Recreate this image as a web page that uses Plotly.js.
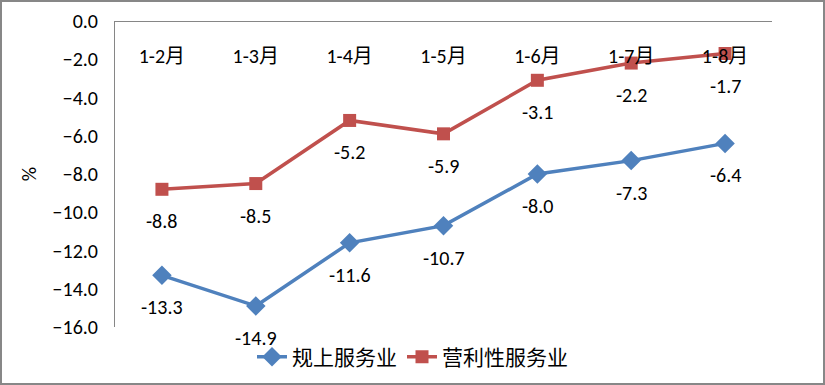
<!DOCTYPE html>
<html><head><meta charset="utf-8">
<script src="https://cdn.plot.ly/plotly-3.0.1.min.js"></script>
<style>
html,body{margin:0;padding:0;background:#fff;}
#chart{position:absolute;left:0;top:0;width:821px;height:381px;border:2px solid #878787;}
</style></head>
<body><div id="chart"></div>
<script>
const categories = ['1-2月','1-3月','1-4月','1-5月','1-6月','1-7月','1-8月'];
const seriesNames = ['规上服务业','营利性服务业'];
const scaleServices = [-13.3,-14.9,-11.6,-10.7,-8.0,-7.3,-6.4];
const profitServices = [-8.8,-8.5,-5.2,-5.9,-3.1,-2.2,-1.7];
const yTicks = [0,-2,-4,-6,-8,-10,-12,-14,-16];

const FONT = 'Carlito, Calibri, "Liberation Sans", "Noto Sans CJK SC", sans-serif';
const blue = '#4F81BD', red = '#C0504D';

const traces = [
  {x: categories, y: scaleServices, name: seriesNames[0], type:'scatter', mode:'lines+markers',
   line:{color:blue,width:3.5}, marker:{symbol:'diamond',size:15,color:blue}},
  {x: categories, y: profitServices, name: seriesNames[1], type:'scatter', mode:'lines+markers',
   line:{color:red,width:3.5}, marker:{symbol:'square',size:13,color:red}}
];

const annotations = [];
[scaleServices, profitServices].forEach(arr => {
  arr.forEach((v,i) => annotations.push({
    x: categories[i], y: v, xref:'x', yref:'y', text: v.toFixed(1),
    showarrow:false, yshift:-32, font:{family:FONT,size:20,color:'#000'}
  }));
});

const layout = {
  width:821, height:381,
  margin:{l:113,r:51,t:19,b:56},
  paper_bgcolor:'#fff', plot_bgcolor:'#fff',
  font:{family:FONT,size:20,color:'#000'},
  showlegend:true,
  legend:{orientation:'h',xref:'container',yref:'container',x:0.5,xanchor:'center',y:0.068,yanchor:'middle',
          font:{family:FONT,size:21,color:'#000'}},
  xaxis:{type:'category',anchor:'free',position:1,side:'bottom',showline:true,linecolor:'#868686',linewidth:1,
         showgrid:false,zeroline:false,ticks:'',ticklabelstandoff:17,automargin:false,
         tickfont:{family:FONT,size:20,color:'#000'},range:[-0.5,6.5]},
  yaxis:{range:[-16,0],tickvals:yTicks,tickformat:'.1f',showline:true,linecolor:'#868686',linewidth:1,
         showgrid:false,zeroline:false,ticks:'',ticklabelstandoff:12,automargin:false,
         tickfont:{family:FONT,size:20,color:'#000'},
         title:{text:'%',standoff:10,font:{family:FONT,size:20,color:'#000'}}},
  annotations: annotations
};
Plotly.newPlot('chart', traces, layout, {displayModeBar:false, staticPlot:true});
</script></body></html>
